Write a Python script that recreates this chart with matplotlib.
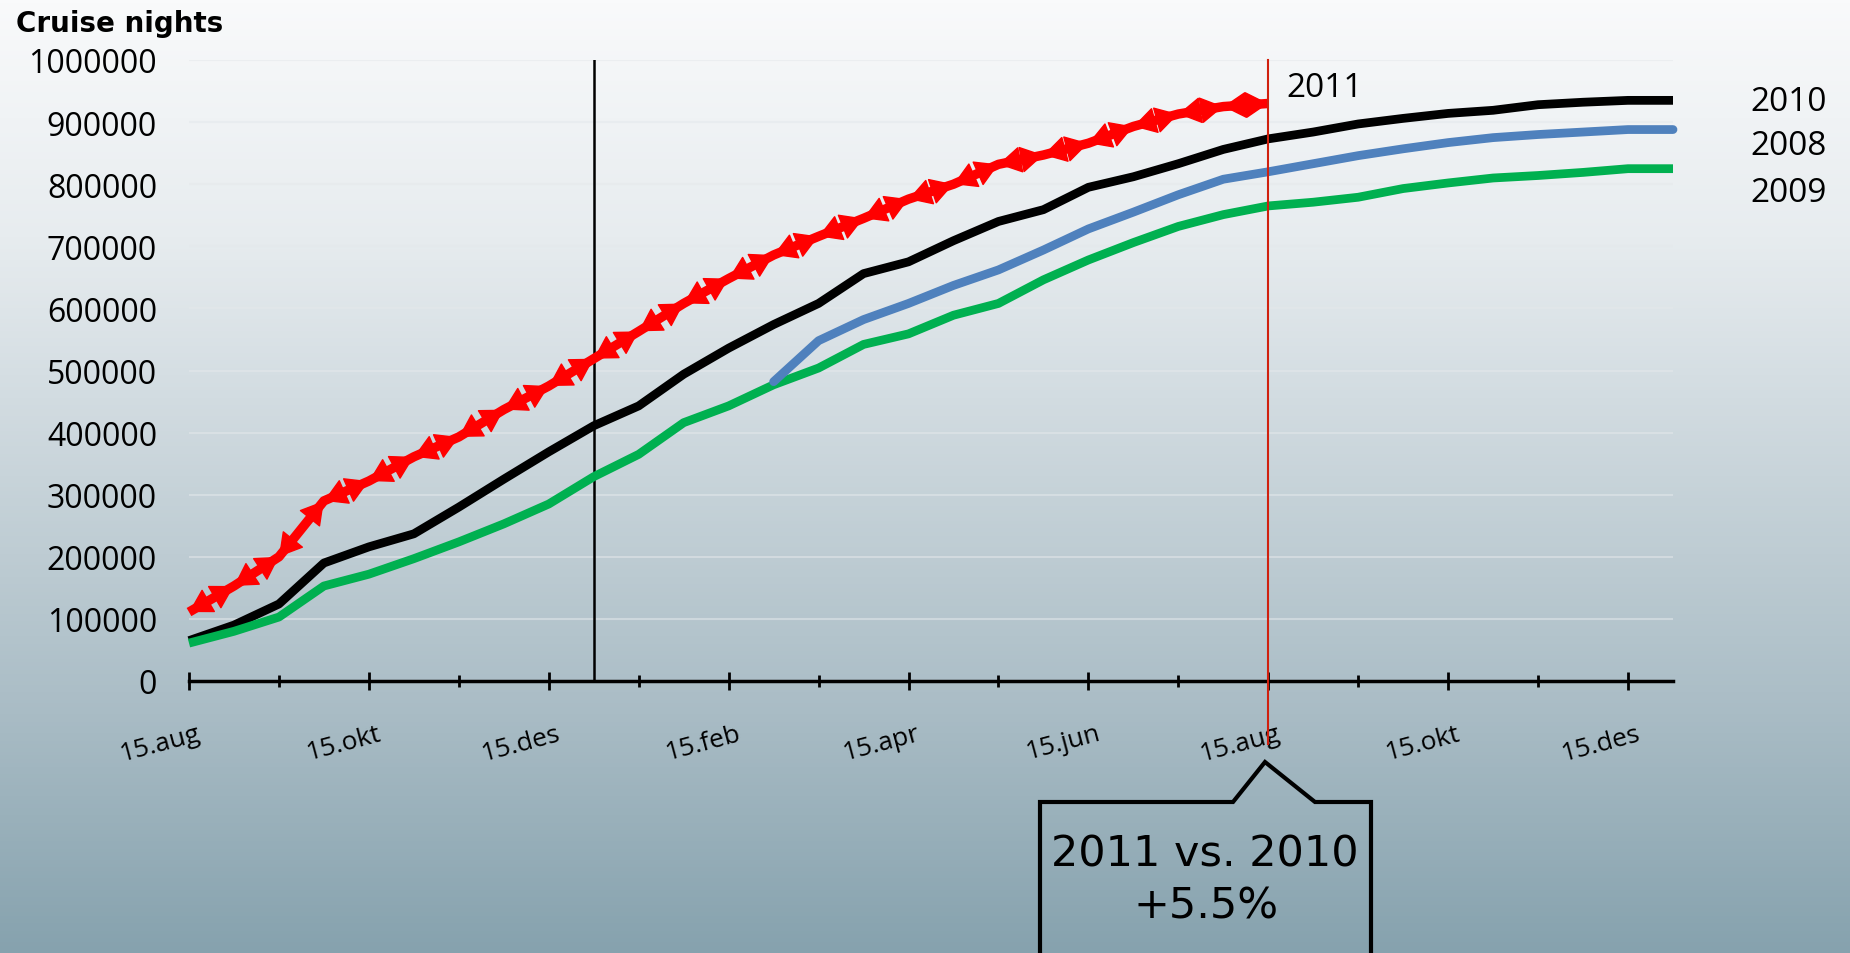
import numpy as np
import matplotlib
matplotlib.use("Agg")
import matplotlib.pyplot as plt
from matplotlib.patches import Polygon
from matplotlib.colors import LinearSegmentedColormap
import matplotlib.transforms as mtransforms

# ---------------- data ----------------
periods = ['15.aug', '1.sep', '15.sep', '1.okt', '15.okt', '1.nov', '15.nov', '1.des',
           '15.des', '1.jan', '15.jan', '1.feb', '15.feb', '1.mar', '15.mar', '1.apr',
           '15.apr', '1.mai', '15.mai', '1.jun', '15.jun', '1.jul', '15.jul', '1.aug',
           '15.aug', '1.sep', '15.sep', '1.okt', '15.okt', '1.nov', '15.nov', '1.des',
           '15.des', '1.jan']
tick_labels = ['15.aug', '15.okt', '15.des', '15.feb', '15.apr', '15.jun',
               '15.aug', '15.okt', '15.des']
y_ticks = [0, 100000, 200000, 300000, 400000, 500000, 600000, 700000, 800000,
           900000, 1000000]

nights_2010 = [65000, 90000, 124000, 190000, 216000, 237000, 280000, 325000, 369000,
               411000, 443000, 494000, 536000, 574000, 608000, 656000, 675000, 709000,
               740000, 759000, 795000, 812000, 833000, 856000, 873000, 884000, 897000,
               906000, 914000, 919000, 928000, 932000, 935000, 935000]
nights_2009 = [61000, 80000, 103000, 153000, 172000, 197000, 224000, 253000, 285000,
               329000, 365000, 416000, 443000, 477000, 504000, 542000, 559000, 589000,
               608000, 646000, 678000, 706000, 732000, 751000, 765000, 771000, 779000,
               793000, 802000, 810000, 814000, 819000, 825000, 825000]
start_2008 = '1.mar'
nights_2008 = [482000, 548000, 582000, 608000, 637000, 662000, 694000, 728000, 755000,
               783000, 808000, 820000, 833000, 846000, 857000, 867000, 875000, 880000,
               884000, 888000, 888000]
nights_2011 = [111000, 153000, 200000, 290000, 322000, 361000, 393000, 437000, 475000,
               519000, 563000, 608000, 648000, 686000, 716000, 745000, 776000, 800000,
               832000, 847000, 866000, 893000, 913000, 925000, 930000]
year_break = '1.jan'

# ---------------- figure ----------------
W, H = 1850, 954
fig = plt.figure(figsize=(W / 100, H / 100), dpi=100)
plt.rcParams['font.family'] = ['Open Sans', 'DejaVu Sans']

# background gradient
bg = fig.add_axes([0, 0, 1, 1], zorder=-10)
cmap = LinearSegmentedColormap.from_list(
    'bg', [(0.0, '#F9FAFB'), (0.25, '#E7ECEF'), (0.5, '#C8D4DA'),
           (0.75, '#A9BCC5'), (1.0, '#86A2AE')])
grad = np.linspace(0, 1, 256).reshape(-1, 1)
bg.imshow(grad, aspect='auto', cmap=cmap, extent=[0, 1, 1, 0])
bg.set_xlim(0, 1)
bg.set_ylim(1, 0)
bg.axis('off')

# main axes
x0, x1, ytop, ybot = 189, 1673, 61, 682
ax = fig.add_axes([x0 / W, 1 - ybot / H, (x1 - x0) / W, (ybot - ytop) / H])
ax.patch.set_alpha(0)
n = len(periods)
ax.set_xlim(0, n - 1)
ax.set_ylim(0, 1000000)

for s in ['left', 'right', 'top']:
    ax.spines[s].set_visible(False)
ax.spines['bottom'].set_linewidth(2.5)
ax.spines['bottom'].set_color('black')

ax.yaxis.grid(True, color='#E4E8EB', lw=1.5, alpha=0.55)
ax.set_axisbelow(True)

ax.set_yticks(y_ticks)
ax.set_yticklabels([str(v) for v in y_ticks])
ax.tick_params(axis='y', length=0, pad=23, labelsize=23)

major = np.arange(0, n, 4)
minor = np.arange(2, n, 4)
ax.set_xticks(major)
ax.set_xticks(minor, minor=True)
ax.set_xticklabels(tick_labels, rotation=15, ha='right', va='top',
                   rotation_mode='anchor', fontsize=19)
ax.tick_params(axis='x', which='major', direction='inout', length=13, width=2,
               pad=22)
ax.tick_params(axis='x', which='minor', direction='inout', length=9, width=2)
offset = mtransforms.ScaledTranslation(8 / 100, 0, fig.dpi_scale_trans)
for lab in ax.get_xticklabels():
    lab.set_transform(lab.get_transform() + offset)

idx = np.arange(n)
ax.plot(idx, nights_2010, color='black', lw=6.3, solid_joinstyle='round',
        solid_capstyle='butt', clip_on=False, zorder=3)
ax.plot(idx, nights_2009, color='#00B050', lw=6.3, solid_joinstyle='round',
        solid_capstyle='butt', clip_on=False, zorder=3)
s8 = periods.index(start_2008)
ax.plot(idx[s8:s8 + len(nights_2008)], nights_2008, color='#4F81BD', lw=6.3,
        solid_joinstyle='round', solid_capstyle='round', clip_on=False, zorder=3)

# year separator and current week marker
yb = periods.index(year_break)
ax.plot([yb, yb], [0, 1000000], color='black', lw=1.8, zorder=2)
cur = len(nights_2011) - 1
ax.plot([cur, cur], [-102000, 1000000], color='#D0200E', lw=1.5, clip_on=False,
        zorder=6)

# 2011 series: thick line with arrowheads on both ends of every segment
idx11 = np.arange(len(nights_2011))
ax.plot(idx11, nights_2011, color='#FF0000', lw=6.8, solid_joinstyle='round',
        solid_capstyle='butt', clip_on=False, zorder=4)
for i in range(len(nights_2011) - 1):
    ax.annotate('', xy=(i + 1, nights_2011[i + 1]), xytext=(i, nights_2011[i]),
                arrowprops=dict(arrowstyle='<|-|>,head_length=0.75,head_width=0.44',
                                mutation_scale=20, color='#FF0000', lw=1,
                                shrinkA=0, shrinkB=0, clip_on=False),
                zorder=5)

# overlay in pixel coordinates for texts / callout
ov = fig.add_axes([0, 0, 1, 1], zorder=5)
ov.set_xlim(0, W)
ov.set_ylim(H, 0)
ov.axis('off')
ov.patch.set_alpha(0)

ov.text(16, 32, 'Cruise nights', fontsize=20, fontweight='bold',
        family=['DejaVu Sans'], ha='left', va='baseline')
ov.text(1286, 97, '2011', fontsize=24, ha='left', va='baseline')
ov.text(1750, 111, '2010', fontsize=24, ha='left', va='baseline')
ov.text(1750, 155, '2008', fontsize=24, ha='left', va='baseline')
ov.text(1750, 202, '2009', fontsize=24, ha='left', va='baseline')

callout = Polygon([(1040, 965), (1040, 803), (1233, 803), (1265, 763), (1315, 803),
                   (1371, 803), (1371, 965)], closed=False, fill=False,
                  edgecolor='black', lw=3, joinstyle='miter')
ov.add_patch(callout)
ov.text(1205, 855, '2011 vs. 2010', fontsize=31, family=['DejaVu Sans'],
        ha='center', va='center')
ov.text(1206, 907, '+5.5%', fontsize=31, family=['DejaVu Sans'],
        ha='center', va='center')

fig.savefig('out.png', dpi=100)
